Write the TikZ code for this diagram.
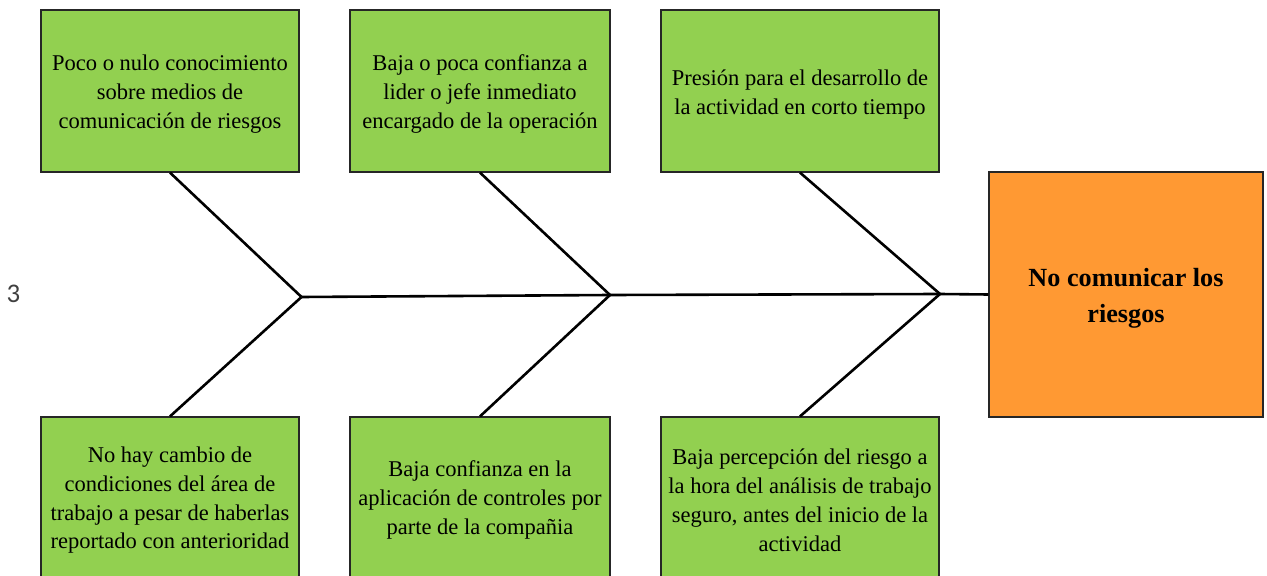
\documentclass[tikz,border=0pt]{standalone}
\usepackage{fontspec}
\setmainfont{Liberation Serif}
\newfontfamily\numfont{Carlito}
\definecolor{boxgreen}{HTML}{92D050}
\definecolor{boxorange}{HTML}{FF9933}
\newcommand\toppad[1]{\rule{0pt}{#1}}
\begin{document}
\begin{tikzpicture}[x=1bp,y=-1bp,
  cause/.style={draw=black!85, line width=1.2bp, fill=boxgreen, minimum height=162bp,
    align=center, inner sep=0pt, font=\fontsize{22.6}{29}\selectfont},
  effect/.style={draw=black!85, line width=1.2bp, fill=boxorange, minimum width=274bp,
    minimum height=245bp, align=center, inner sep=0pt, font=\fontsize{26.3}{36.7}\selectfont\bfseries},
  pagenum/.style={inner sep=0pt, text=black!75, font=\numfont\fontsize{27}{30}\selectfont},
  bone/.style={line width=2.6bp, draw=black}]
\useasboundingbox (0,0) rectangle (1267,576);
\clip (0,0) rectangle (1267,576);
\node[cause, minimum width=258bp] (c1) at (170,91) {\toppad{22bp}Poco o nulo conocimiento\\sobre medios de\\comunicación de riesgos};
\node[cause, minimum width=260bp] (c2) at (480,91) {\toppad{22bp}Baja o poca confianza a\\lider o jefe inmediato\\encargado de la operación};
\node[cause, minimum width=278bp] (c3) at (800,91) {\toppad{23bp}Presión para el desarrollo de\\la actividad en corto tiempo};
\node[cause, minimum width=258bp] (c4) at (170,498) {\toppad{20bp}No hay cambio de\\condiciones del área de\\trabajo a pesar de haberlas\\reportado con anterioridad};
\node[cause, minimum width=260bp] (c5) at (480,498) {\toppad{20bp}Baja confianza en la\\aplicación de controles por\\parte de la compañia};
\node[cause, minimum width=278bp] (c6) at (800,498) {\toppad{20bp}Baja percepción del riesgo a\\la hora del análisis de trabajo\\seguro, antes del inicio de la\\actividad};
\node[effect] (e) at (1126,294.5) {\toppad{26bp}No comunicar los\\riesgos};
\node[pagenum] (n3) at (13.5,294) {3};
\coordinate (j1) at (301.5,297);
\coordinate (j2) at (610,295);
\coordinate (j3) at (940,294);
\draw[bone] (c1.south) -- (j1);
\draw[bone] (c4.north) -- (j1);
\draw[bone] (c2.south) -- (j2);
\draw[bone] (c5.north) -- (j2);
\draw[bone] (c3.south) -- (j3);
\draw[bone] (c6.north) -- (j3);
\draw[bone] (j1) -- (j2) -- (j3) -- (e.west);
\end{tikzpicture}
\end{document}
